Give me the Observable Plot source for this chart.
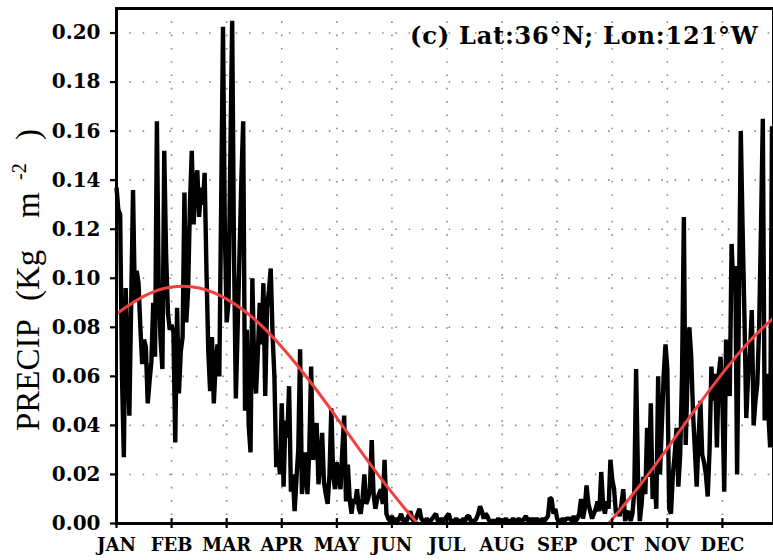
<!DOCTYPE html>
<html>
<head>
<meta charset="utf-8">
<script src="https://cdn.jsdelivr.net/npm/d3@7"></script>
<script src="https://cdn.jsdelivr.net/npm/@observablehq/plot@0.6"></script>
<style>
  html, body { margin: 0; padding: 0; background: #fff; overflow: hidden; }
  #chart svg { overflow: hidden; display: block; }
</style>
</head>
<body>
<div id="chart"></div>
<script>
// Daily precipitation (kg m^-2), 360-day model calendar, 30 days per month
const jan = [0.137,0.128,0.126,0.060,0.027,0.096,0.070,0.044,0.090,0.136,0.091,0.103,0.098,0.080,0.065,0.075,0.072,0.049,0.058,0.066,0.090,0.068,0.164,0.096,0.075,0.063,0.152,0.110,0.086,0.079];
const feb = [0.081,0.078,0.033,0.088,0.053,0.070,0.076,0.135,0.082,0.095,0.130,0.152,0.122,0.140,0.144,0.125,0.137,0.130,0.143,0.103,0.070,0.054,0.076,0.049,0.065,0.073,0.060,0.130,0.2025,0.120];
const mar = [0.082,0.090,0.150,0.205,0.110,0.051,0.080,0.110,0.140,0.164,0.046,0.079,0.040,0.029,0.100,0.064,0.053,0.070,0.090,0.073,0.098,0.052,0.088,0.095,0.104,0.077,0.060,0.023,0.030,0.020];
const apr = [0.049,0.015,0.042,0.035,0.056,0.013,0.020,0.005,0.018,0.030,0.071,0.012,0.020,0.029,0.012,0.030,0.064,0.026,0.030,0.041,0.016,0.025,0.037,0.017,0.012,0.008,0.020,0.047,0.020,0.014];
const may = [0.025,0.018,0.014,0.030,0.044,0.009,0.024,0.010,0.004,0.010,0.008,0.014,0.006,0.004,0.010,0.020,0.008,0.010,0.014,0.034,0.012,0.006,0.010,0.012,0.014,0.008,0.026,0.004,0.002,0.001];
const jun = [0.003,0.001,0.002,0.001,0.002,0.004,0.001,0.002,0.001,0.003,0.005,0.002,0.001,0.002,0.004,0.006,0.002,0.001,0.001,0.002,0.001,0.001,0.002,0.003,0.004,0.001,0.001,0.002,0.001,0.002];
const jul = [0.003,0.004,0.001,0.001,0.001,0.002,0.001,0.001,0.001,0.002,0.001,0.003,0.003,0.001,0.001,0.001,0.002,0.004,0.007,0.005,0.002,0.004,0.003,0.001,0.001,0.001,0.001,0.001,0.002,0.001];
const aug = [0.001,0.001,0.002,0.001,0.001,0.001,0.002,0.001,0.001,0.002,0.001,0.001,0.002,0.003,0.001,0.002,0.001,0.002,0.001,0.002,0.001,0.001,0.002,0.001,0.002,0.003,0.0105,0.010,0.004,0.006];
const sep = [0.002,0.001,0.001,0.002,0.001,0.002,0.002,0.002,0.001,0.003,0.001,0.002,0.004,0.010,0.002,0.006,0.0155,0.008,0.005,0.002,0.004,0.006,0.009,0.005,0.021,0.008,0.004,0.009,0.006,0.026];
const oct = [0.018,0.014,0.004,0.006,0.003,0.008,0.014,0.001,0.004,0.005,0.001,0.004,0.013,0.063,0.020,0.001,0.008,0.019,0.012,0.039,0.019,0.049,0.010,0.020,0.006,0.060,0.020,0.040,0.060,0.073];
const nov = [0.063,0.006,0.004,0.020,0.028,0.039,0.015,0.028,0.060,0.125,0.032,0.060,0.080,0.068,0.045,0.030,0.015,0.035,0.050,0.028,0.025,0.020,0.011,0.030,0.064,0.050,0.061,0.031,0.061,0.068];
const dec = [0.050,0.013,0.075,0.060,0.052,0.114,0.095,0.105,0.020,0.090,0.160,0.120,0.084,0.043,0.060,0.070,0.087,0.040,0.050,0.057,0.080,0.120,0.165,0.042,0.061,0.045,0.031,0.162,0.110,0.070];

// Annual-cycle fit (red), two branches above zero
const fitWetDay   = [0, 15, 30, 45, 60, 75, 90, 105, 120, 135, 150, 164, 170];
const fitWetValue = [0.0855, 0.0927, 0.0964, 0.0960, 0.0915, 0.0834, 0.0720, 0.0583, 0.0431, 0.0275, 0.0126, 0.0, -0.0046];
const fitAutDay   = [262, 268, 285, 300, 315, 330, 345, 360];
const fitAutValue = [-0.0046, 0.0, 0.0155, 0.0306, 0.0463, 0.0612, 0.0745, 0.0853];

const monthLabels = ["JAN","FEB","MAR","APR","MAY","JUN","JUL","AUG","SEP","OCT","NOV","DEC"];
const yTicks = [0, 0.02, 0.04, 0.06, 0.08, 0.10, 0.12, 0.14, 0.16, 0.18, 0.20];
const title = "(c) Lat:36°N; Lon:121°W";

const daysPerMonth = 30;
const precip = [jan, feb, mar, apr, may, jun, jul, aug, sep, oct, nov, dec]
  .flat().map((v, i) => ({day: i, value: v}));
const fit = [
  ...fitWetDay.map((d, i) => ({day: d, value: fitWetValue[i], branch: "wet"})),
  ...fitAutDay.map((d, i) => ({day: d, value: fitAutValue[i], branch: "autumn"}))
];
const monthStarts = monthLabels.map((m, i) => i * daysPerMonth);

const serifBold = "'DejaVu Serif', serif";
const grid = {stroke: "#8a8a8a", strokeWidth: 1.6, strokeDasharray: "1.6 11.7", strokeOpacity: 1};

const chart = Plot.plot({
  width: 773,
  height: 560,
  marginLeft: 116,
  marginRight: 0,
  marginTop: 8,
  marginBottom: 37,
  x: {domain: [0, 360], range: [116, 777]},
  y: {domain: [0, 0.21]},
  style: {background: "white", fontFamily: serifBold, color: "black"},
  marks: [
    Plot.ruleY(yTicks.slice(1), {...grid}),
    Plot.ruleX(monthStarts.slice(1), {...grid}),
    Plot.line(precip, {x: "day", y: "value", stroke: "black", strokeWidth: 4.4, strokeLinejoin: "bevel", strokeLinecap: "butt"}),
    Plot.line(fit, {x: "day", y: "value", z: "branch", stroke: "#f04040", strokeWidth: 3, curve: "natural", clip: true}),
    Plot.frame({stroke: "black", strokeWidth: 3}),
    Plot.axisY({ticks: yTicks, tickFormat: d3.format(".2f"), tickSize: 6, tickPadding: 10, strokeWidth: 2.2,
      fontSize: 20, fontWeight: "bold", label: null}),
    Plot.axisX({ticks: monthStarts, tickFormat: (d, i) => monthLabels[i], tickSize: 5, tickPadding: 10, strokeWidth: 2.2,
      fontSize: 18, fontWeight: "bold", label: null}),
    Plot.ruleX(monthStarts, {x: d => d, y1: 0, y2: 0.002, stroke: "black", strokeWidth: 2.2}),
    Plot.text([title], {frameAnchor: "top-right", dx: -15, dy: 18, fontSize: 24, fontWeight: "bold", fill: "black"})
  ]
});

const svg = d3.select(chart);

// Widen the panel title's letter spacing
svg.selectAll("text")
  .filter(function() { return this.textContent === title; })
  .attr("letter-spacing", 0.8);

// Rotated y-axis title with superscript exponent
const ylab = svg.append("text")
  .attr("transform", "translate(39,0) rotate(-90)")
  .attr("text-anchor", "start")
  .attr("font-family", "'Liberation Serif', serif")
  .attr("font-size", 33)
  .attr("fill", "black");
ylab.append("tspan").attr("x", -431).text("PRECIP");
ylab.append("tspan").attr("x", -301).text("(Kg");
ylab.append("tspan").attr("x", -218).text("m");
ylab.append("tspan").attr("x", -180).attr("dy", -13).attr("font-size", 20).text("-2");
ylab.append("tspan").attr("x", -140).attr("dy", 13).text(")");

document.getElementById("chart").append(chart);
</script>
</body>
</html>
